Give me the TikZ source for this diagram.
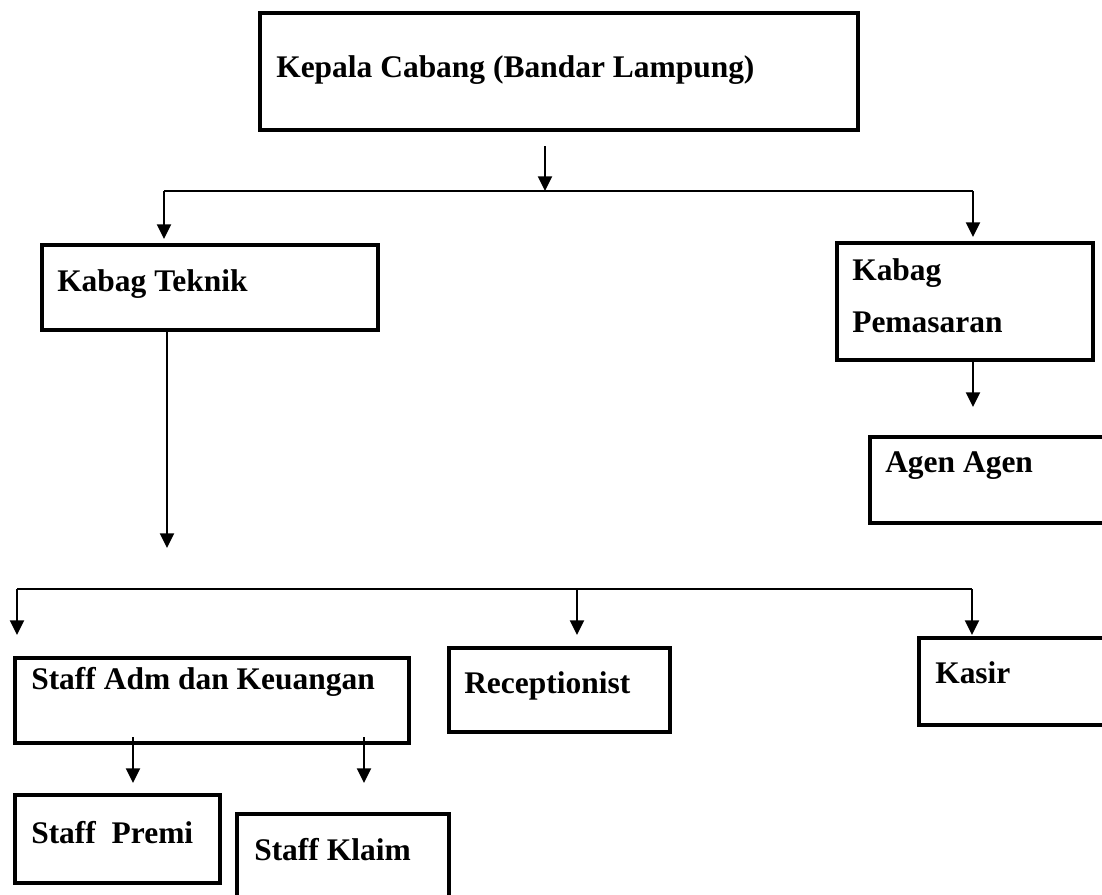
\documentclass[tikz,border=0pt]{standalone}
\usepackage{fontspec}
\setmainfont{Liberation Serif}
\usetikzlibrary{arrows.meta,fit}
\begin{document}
\begin{tikzpicture}[x=0.75pt,y=-0.75pt,
  box/.style={draw, line width=3pt, inner sep=0pt},
  lbl/.style={anchor=base west, inner sep=0pt, font=\fontsize{23.6}{28}\selectfont\bfseries},
  arr/.style={line width=1.5pt, -{Triangle[length=11pt,width=10.5pt]}},
  bus/.style={line width=1.1pt}]
\useasboundingbox (0,0) rectangle (1102,894);
\clip (0,0) rectangle (1102,894);
\fill[white] (0,0) rectangle (1102,894);
% boxes
\node[box, fit={(260,13) (858,130)}] (kc) {};
\node[lbl] (kct) at (276,77) {Kepala Cabang (Bandar Lampung)};
\node[box, fit={(42,245) (378,330)}] (kt) {};
\node[lbl] (ktt) at (57,291) {Kabag Teknik};
\node[box, fit={(837,243) (1093,360)}] (kp) {};
\node[lbl] (kpt1) at (852,280) {Kabag};
\node[lbl] (kpt2) at (852,332) {Pemasaran};
\node[box, fit={(870,437) (1120,523)}] (ag) {};
\node[lbl] (agt) at (885,472) {Agen Agen};
\node[box, fit={(15,658) (409,743)}] (sa) {};
\node[lbl] (sat) at (31,689) {Staff Adm dan Keuangan};
\node[box, fit={(449,648) (670,732)}] (rc) {};
\node[lbl] (rct) at (464,693) {Receptionist};
\node[box, fit={(919,638) (1120,725)}] (ks) {};
\node[lbl] (kst) at (935,683) {Kasir};
\node[box, fit={(15,795) (220,883)}] (sp) {};
\node[lbl] (spt) at (31,843) {Staff\ \ Premi};
\node[box, fit={(237,814) (449,915)}] (sk) {};
\node[lbl] (skt) at (254,860) {Staff Klaim};
% connector points
\coordinate (a0) at (545,146);
\coordinate (a1) at (545,191);
\coordinate (bl) at (164,191);
\coordinate (br) at (973,191);
\coordinate (ktin) at (164,239);
\coordinate (kpin) at (973,237);
\coordinate (ktout) at (167,330);
\coordinate (ktend) at (167,548);
\coordinate (cl) at (17,589);
\coordinate (cm) at (577,589);
\coordinate (cr) at (972,589);
\coordinate (sain) at (17,635);
\coordinate (rcin) at (577,635);
\coordinate (ksin) at (972,635);
\coordinate (kpout) at (973,360);
\coordinate (agin) at (973,407);
\coordinate (sa1) at (133,737);
\coordinate (sp1) at (133,783);
\coordinate (sa2) at (364,737);
\coordinate (sk1) at (364,783);
% connectors
\draw[arr] (a0) -- (a1);
\draw[bus] (bl) -- (br);
\draw[arr] (bl) -- (ktin);
\draw[arr] (br) -- (kpin);
\draw[arr] (ktout) -- (ktend);
\draw[arr] (kpout) -- (agin);
\draw[bus] (cl) -- (cr);
\draw[arr] (cl) -- (sain);
\draw[arr] (cm) -- (rcin);
\draw[arr] (cr) -- (ksin);
\draw[arr] (sa1) -- (sp1);
\draw[arr] (sa2) -- (sk1);
\end{tikzpicture}
\end{document}
